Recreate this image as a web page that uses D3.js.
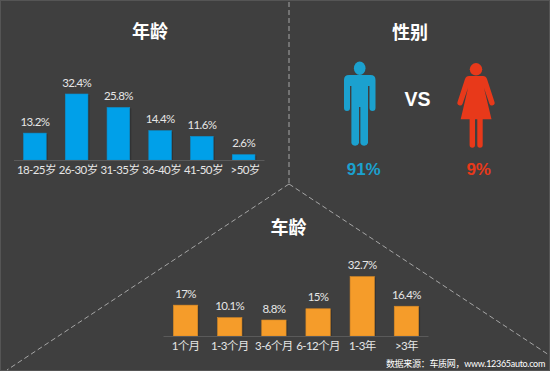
<!DOCTYPE html>
<html>
<head>
<meta charset="utf-8">
<script src="https://cdn.jsdelivr.net/npm/d3@7"></script>
<style>
  html, body { margin: 0; padding: 0; background: #3f3f3f; }
  svg { display: block; }
  text { font-family: Lato, "Noto Sans CJK SC", sans-serif; }
</style>
</head>
<body>
<div id="chart"></div>
<script>
const ageCategories = ['18-25岁', '26-30岁', '31-35岁', '36-40岁', '41-50岁', '>50岁'];
const ageValues = [13.2, 32.4, 25.8, 14.4, 11.6, 2.6];
const carAgeCategories = ['1个月', '1-3个月', '3-6个月', '6-12个月', '1-3年', '>3年'];
const carAgeValues = [17, 10.1, 8.8, 15, 32.7, 16.4];
const genderLabels = ['91%', '9%'];

const width = 550;
const height = 371;

const svg = d3.select('#chart')
    .append('svg')
    .attr('width', width)
    .attr('height', height);

svg.append('rect')
    .attr('x', 0.5)
    .attr('y', 0.5)
    .attr('width', width - 1)
    .attr('height', height - 1)
    .attr('fill', '#3f3f3f')
    .attr('stroke', '#555');

// Dashed dividers
const divider = svg.append('g')
    .attr('fill', 'none')
    .attr('stroke', '#a6a6a6')
    .attr('stroke-width', 1)
    .attr('stroke-dasharray', '5,3');
divider.append('path').attr('d', 'M289,2L289,184');
divider.append('path').attr('d', 'M289,184L7,370');
divider.append('path').attr('d', 'M289,184L549,355');

function drawBars(opts) {
    const x = d3.scaleBand()
        .domain(opts.categories)
        .range([opts.x0, opts.x1])
        .paddingInner(opts.padding)
        .paddingOuter(opts.padding / 2);
    const y = d3.scaleLinear()
        .domain([0, 35])
        .range([opts.baseline, opts.baseline - opts.pxPerUnit * 35]);

    const g = svg.append('g');

    // faint shadow on the right side of each bar
    g.selectAll('rect.shadow')
        .data(opts.values)
        .join('rect')
        .attr('class', 'shadow')
        .attr('x', (d, i) => x(opts.categories[i]) + 1.5)
        .attr('y', d => y(d) + 1)
        .attr('width', x.bandwidth())
        .attr('height', d => opts.baseline - y(d) - 1)
        .attr('fill', '#333');

    g.selectAll('rect.bar')
        .data(opts.values)
        .join('rect')
        .attr('class', 'bar')
        .attr('x', (d, i) => x(opts.categories[i]))
        .attr('y', d => y(d))
        .attr('width', x.bandwidth())
        .attr('height', d => opts.baseline - y(d))
        .attr('fill', opts.color)
        .attr('stroke', opts.edge)
        .attr('stroke-width', 0.6);

    g.append('line')
        .attr('x1', opts.x0)
        .attr('x2', opts.x1)
        .attr('y1', opts.baseline + 0.5)
        .attr('y2', opts.baseline + 0.5)
        .attr('stroke', '#5a5a5a');

    g.selectAll('text.value')
        .data(opts.values)
        .join('text')
        .attr('class', 'value')
        .attr('x', (d, i) => x(opts.categories[i]) + x.bandwidth() / 2)
        .attr('y', d => y(d) - 7.5)
        .attr('text-anchor', 'middle')
        .attr('font-size', 11.5)
        .attr('letter-spacing', -0.6)
        .attr('fill', '#e6e6e6')
        .text(d => d + '%');

    g.selectAll('text.cat')
        .data(opts.categories)
        .join('text')
        .attr('class', 'cat')
        .attr('x', d => x(d) + x.bandwidth() / 2 + opts.labelShift)
        .attr('y', opts.baseline + 13.5)
        .attr('text-anchor', 'middle')
        .attr('font-size', 11.5)
        .attr('letter-spacing', -0.6)
        .attr('fill', '#e6e6e6')
        .text(d => d);
}

drawBars({
    categories: ageCategories, values: ageValues,
    x0: 14, x1: 264.5, padding: 0.457, labelShift: 1.5,
    baseline: 160, pxPerUnit: 2.037, color: '#00a0e9', edge: '#0a8fcc'
});

drawBars({
    categories: carAgeCategories, values: carAgeValues,
    x0: 163.5, x1: 428.5, padding: 0.449, labelShift: 0,
    baseline: 336, pxPerUnit: 1.816, color: '#f59c2a', edge: '#d98a25'
});

// Titles
const titles = [['年龄', 150, 38], ['性别', 410, 39], ['车龄', 288.5, 234]];
svg.selectAll('text.title')
    .data(titles)
    .join('text')
    .attr('class', 'title')
    .attr('x', d => d[1])
    .attr('y', d => d[2])
    .attr('text-anchor', 'middle')
    .attr('font-size', 18)
    .attr('font-weight', 700)
    .attr('fill', '#fff')
    .text(d => d[0]);

// Pictograms
svg.append('ellipse').attr('cx', 359.7).attr('cy', 68.3).attr('rx', 5.8).attr('ry', 6.8).attr('fill', '#1ba1cf');
svg.append('path')
    .attr('fill', '#1ba1cf')
    .attr('d', 'M349,75L370.5,75Q375.5,75 375.5,80L375.5,108A3,3 0 0 1 369.5,108L369.5,86L368,86L368,143A4,4 0 0 1 360.4,143L360.4,107L359,107L359,143A4,4 0 0 1 351.4,143L351.4,86L350,86L350,108A3,3 0 0 1 344,108L344,80Q344,75 349,75Z');

svg.append('circle').attr('cx', 476).attr('cy', 69.3).attr('r', 6.2).attr('fill', '#e8391a');
svg.append('path')
    .attr('fill', '#e8391a')
    .attr('d', 'M469,76L483,76Q486,76 487,79L494.5,102A2.7,2.7 0 0 1 489.5,104L484,88L491.5,119.3L482.7,119.3L482.7,145A2.7,2.7 0 0 1 477.3,145L477.3,119.3L475,119.3L475,145A2.7,2.7 0 0 1 469.6,145L469.6,119.3L460.7,119.3L468,88L462.5,104A2.7,2.7 0 0 1 457.5,102L465,79Q466,76 469,76Z');

svg.append('text')
    .attr('x', 417.5).attr('y', 106)
    .attr('text-anchor', 'middle')
    .style('font-family', '"Liberation Sans"')
    .attr('font-size', 19.5)
    .attr('font-weight', 700)
    .attr('fill', '#fff')
    .text('VS');

svg.selectAll('text.pct')
    .data(genderLabels)
    .join('text')
    .attr('class', 'pct')
    .attr('x', (d, i) => [363.7, 478.7][i])
    .attr('y', 174.5)
    .attr('text-anchor', 'middle')
    .style('font-family', '"Liberation Sans"')
    .attr('font-size', 17)
    .attr('font-weight', 700)
    .attr('fill', (d, i) => ['#1ba1cf', '#e8391a'][i])
    .text(d => d);

// Source note
svg.append('text')
    .attr('x', 545).attr('y', 366.5)
    .attr('text-anchor', 'end')
    .attr('font-size', 9)
    .attr('letter-spacing', -0.3)
    .attr('fill', '#fff')
    .text('数据来源：车质网，www.12365auto.com');
</script>
</body>
</html>
